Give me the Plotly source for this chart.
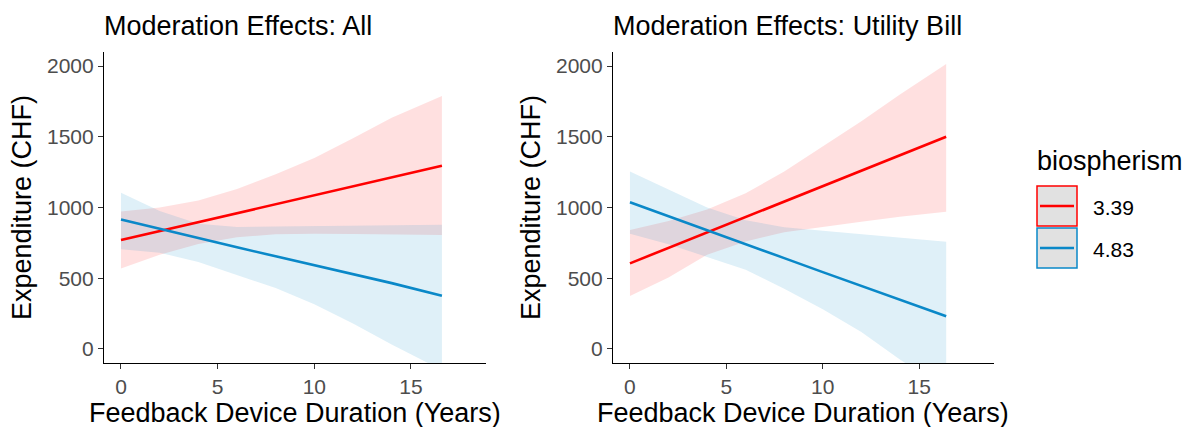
import plotly.graph_objects as go

# ---------------- data ----------------
x_all = [0, 2, 4, 6, 8, 10, 12, 14, 16.6]
all_low_fit = [770, 833, 896, 960, 1023, 1086, 1149, 1212, 1295]
all_low_upper = [972, 1000, 1050, 1130, 1235, 1350, 1490, 1635, 1788]
all_low_lower = [568, 665, 742, 790, 810, 815, 812, 808, 805]
all_high_fit = [915, 848, 782, 718, 655, 592, 530, 465, 375]
all_high_upper = [1105, 975, 885, 862, 866, 870, 874, 877, 878]
all_high_lower = [705, 680, 615, 525, 430, 315, 180, 30, -150]

x_bill = [0, 2, 4, 6, 8, 10, 12, 14, 16.4]
bill_low_fit = [605, 714, 823, 933, 1042, 1151, 1260, 1369, 1500]
bill_low_upper = [840, 905, 985, 1100, 1255, 1430, 1610, 1800, 2015]
bill_low_lower = [374, 505, 665, 760, 825, 865, 900, 935, 970]
bill_high_fit = [1037, 937, 838, 740, 642, 543, 445, 345, 231]
bill_high_upper = [1255, 1130, 1000, 910, 860, 835, 810, 785, 758]
bill_high_lower = [815, 740, 650, 560, 425, 280, 120, -75, -290]

groups = ["3.39", "4.83"]
panel_titles = ["Moderation Effects: All", "Moderation Effects: Utility Bill"]
x_title = "Feedback Device Duration (Years)"
y_title = "Expenditure (CHF)"
legend_title = "biospherism"
x_ticks = [0, 5, 10, 15]
y_ticks = [0, 500, 1000, 1500, 2000]

# ---------------- style ----------------
W, H = 1187, 427
RED = "#FF0000"
BLUE = "#0A88C8"
RED_FILL = "rgba(255,0,0,0.12)"
BLUE_FILL = "rgba(10,136,200,0.13)"
FONT = "Liberation Sans, Arial, sans-serif"
TICK_COL = "#4D4D4D"
TITLE_SIZE = 27

def px(x):
    return x / W

def py(y):
    return 1 - y / H

fig = go.Figure()

panels = [
    (x_all, [(all_low_fit, all_low_upper, all_low_lower), (all_high_fit, all_high_upper, all_high_lower)]),
    (x_bill, [(bill_low_fit, bill_low_upper, bill_low_lower), (bill_high_fit, bill_high_upper, bill_high_lower)]),
]
colors = [(RED, RED_FILL), (BLUE, BLUE_FILL)]

for i, (xs, series) in enumerate(panels):
    xa = "x" if i == 0 else "x2"
    ya = "y" if i == 0 else "y2"
    for (fit, up, lo), (lc, fc), g in zip(series, colors, groups):
        fig.add_trace(go.Scatter(x=xs, y=lo, mode="lines", line=dict(width=0, color=fc),
                                 xaxis=xa, yaxis=ya, showlegend=False, hoverinfo="skip"))
        fig.add_trace(go.Scatter(x=xs, y=up, mode="lines", line=dict(width=0, color=fc),
                                 fill="tonexty", fillcolor=fc,
                                 xaxis=xa, yaxis=ya, showlegend=False, hoverinfo="skip"))
    for (fit, up, lo), (lc, fc), g in zip(series, colors, groups):
        fig.add_trace(go.Scatter(x=xs, y=fit, mode="lines", line=dict(width=2.6, color=lc),
                                 xaxis=xa, yaxis=ya, showlegend=False, name=g))

axis_common = dict(
    showline=True, linecolor="black", linewidth=1.2,
    ticks="outside", ticklen=5, tickwidth=1.1, tickcolor="#333333",
    showgrid=False, zeroline=False, automargin=False,
    tickfont=dict(family=FONT, size=21, color=TICK_COL),
)

xdom1 = [px(104), px(486)]
xdom2 = [px(613), px(994)]
ydom = [py(363), py(52)]
xr = [-0.879, 18.88]
yr = [-100, 2100]

fig.update_layout(
    width=W, height=H,
    margin=dict(l=0, r=0, t=0, b=0, autoexpand=False),
    paper_bgcolor="white", plot_bgcolor="white",
    showlegend=False,
    xaxis=dict(domain=xdom1, range=xr, tickvals=x_ticks, anchor="y", **axis_common),
    yaxis=dict(domain=ydom, range=yr, tickvals=y_ticks, anchor="x", **axis_common),
    xaxis2=dict(domain=xdom2, range=xr, tickvals=x_ticks, anchor="y2", **axis_common),
    yaxis2=dict(domain=ydom, range=yr, tickvals=y_ticks, anchor="x2", **axis_common),
)

annotations = []
for t, left in zip(panel_titles, [102, 611]):
    annotations.append(dict(text=t, x=px(left), y=py(26), xref="paper", yref="paper",
                            xanchor="left", yanchor="middle", showarrow=False,
                            font=dict(family=FONT, size=TITLE_SIZE, color="black")))
for cx in [(104 + 486) / 2, (613 + 994) / 2]:
    annotations.append(dict(text=x_title, x=px(cx), y=py(413), xref="paper", yref="paper",
                            xanchor="center", yanchor="middle", showarrow=False,
                            font=dict(family=FONT, size=TITLE_SIZE, color="black")))
for cx in [22, 531]:
    annotations.append(dict(text=y_title, x=px(cx), y=py(208), xref="paper", yref="paper",
                            xanchor="center", yanchor="middle", showarrow=False, textangle=-90,
                            font=dict(family=FONT, size=TITLE_SIZE, color="black")))
annotations.append(dict(text=legend_title, x=px(1035), y=py(161), xref="paper", yref="paper",
                        xanchor="left", yanchor="middle", showarrow=False,
                        font=dict(family=FONT, size=TITLE_SIZE, color="black")))
shapes = []
key_tops = [186, 228]
for (lc, fc), g, top in zip(colors, groups, key_tops):
    shapes.append(dict(type="rect", xref="paper", yref="paper",
                       x0=px(1037), x1=px(1077), y0=py(top), y1=py(top + 40),
                       fillcolor="#E1E1E1", line=dict(color=lc, width=1.5)))
    shapes.append(dict(type="line", xref="paper", yref="paper",
                       x0=px(1040), x1=px(1074), y0=py(top + 20), y1=py(top + 20),
                       line=dict(color=lc, width=2.6)))
    annotations.append(dict(text=g, x=px(1091), y=py(top + 21), xref="paper", yref="paper",
                            xanchor="left", yanchor="middle", showarrow=False,
                            font=dict(family=FONT, size=21, color="black")))

fig.update_layout(annotations=annotations, shapes=shapes)
fig.write_html("out.html", config={"displayModeBar": False},
               post_script="document.body.style.margin='0px';")
